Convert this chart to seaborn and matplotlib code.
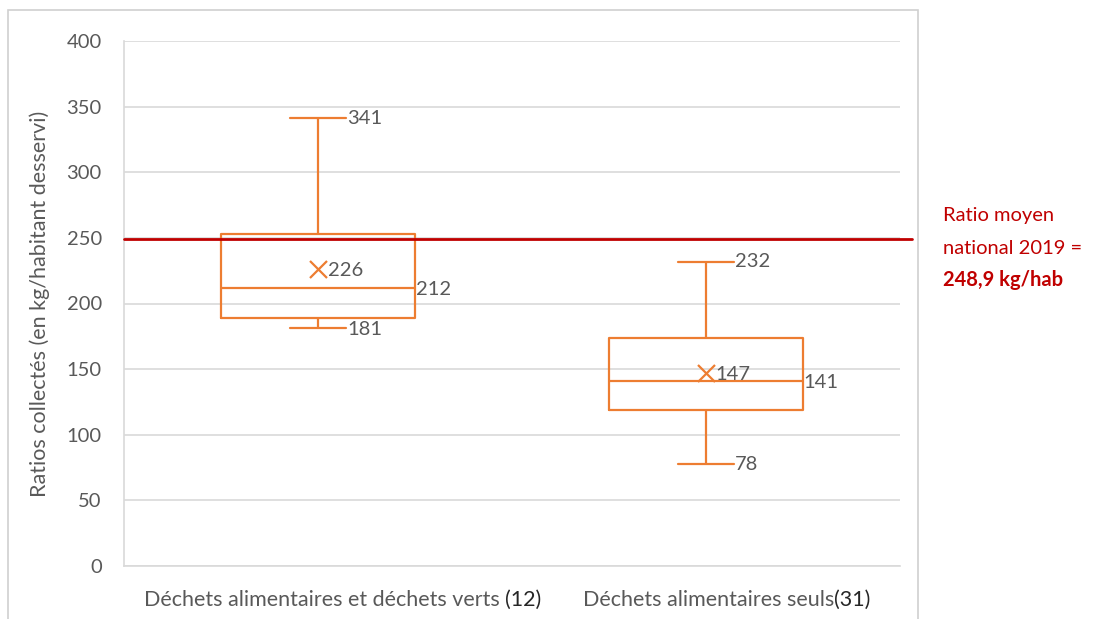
import numpy as np
import pandas as pd
import seaborn as sns
import matplotlib
matplotlib.use('Agg')
import matplotlib.pyplot as plt
import matplotlib.patches as mpatches
import matplotlib.transforms as mtransforms

# -------------------------------Données
categories = ['Déchets alimentaires et déchets verts ', 'Déchets alimentaires seuls']
effectifs = ['(12)', '(31)']
minimums = [181, 78]
q1s = [189, 119]
medianes = [212, 141]
q3s = [253, 174]
maximums = [341, 232]
moyennes = [226, 147]
ratio_national = 248.9
yticks = [0, 50, 100, 150, 200, 250, 300, 350, 400]

orange = '#ED7D31'
rouge = '#C00000'
gris_texte = '#595959'
gris_grille = '#D9D9D9'

sns.set_style("white")
plt.rcParams['font.family'] = ['Lato', 'DejaVu Sans']

# Cinq valeurs par catégorie -> quartiles exacts avec l'interpolation linéaire
lignes = []
for cat, mn, a, m, b, mx in zip(categories, minimums, q1s, medianes, q3s, maximums):
    for v in (mn, a, m, b, mx):
        lignes.append({'categorie': cat, 'valeur': v})
df = pd.DataFrame(lignes)

fig = plt.figure(figsize=(11.04, 6.19), dpi=100)
ax = fig.add_axes([124 / 1104, 1 - 566 / 619, 776 / 1104, 525 / 619])

# Cadre de la zone de graphique
fig.patches.append(mpatches.Rectangle((8 / 1104, -0.05), 910 / 1104, 1.05 - 10 / 619,
                                      transform=fig.transFigure, fill=False,
                                      edgecolor='#D0D0D0', linewidth=1.2))

sns.boxplot(data=df, x='categorie', y='valeur', width=0.5, fill=False,
            color=orange, linecolor=orange, linewidth=1.6, whis=np.inf,
            capwidths=0.145, ax=ax)

# Moyennes (croix)
ax.scatter(range(len(categories)), moyennes, marker='x', s=150, color=orange,
           linewidths=1.6, zorder=5)

# Étiquettes de données
for i in range(len(categories)):
    kw = dict(fontsize=14.5, color=gris_texte, va='center', ha='left')
    ax.text(i + 0.075, maximums[i], str(maximums[i]), **kw)
    ax.text(i + 0.075, minimums[i] - 1, str(minimums[i]), **kw)
    ax.text(i + 0.252, medianes[i] - 1, str(medianes[i]), **kw)
    ax.text(i + 0.025, moyennes[i] - 1, str(moyennes[i]), **kw)

# Ligne du ratio moyen national
ax.axhline(ratio_national, xmin=0, xmax=1.0155, color=rouge, linewidth=2,
           clip_on=False, zorder=6)

ax.set_ylim(0, 400)
ax.set_xlim(-0.5, 1.5)
ax.set_yticks(yticks)
ax.yaxis.grid(True, color=gris_grille, linewidth=1.2)
ax.set_axisbelow(True)
for s in ['top', 'right']:
    ax.spines[s].set_visible(False)
ax.spines['left'].set_color(gris_grille)
ax.spines['bottom'].set_color(gris_grille)
ax.spines['left'].set_linewidth(1.2)
ax.spines['bottom'].set_linewidth(1.2)

ax.tick_params(axis='y', labelsize=14.5, colors=gris_texte, length=0, pad=16)
ax.set_xticks(range(len(categories)))
ax.set_xticklabels([])
ax.tick_params(axis='x', length=0)

# Libellés des catégories (effectif en plus foncé)
trans = mtransforms.blended_transform_factory(ax.transData, ax.transAxes)
separations = [0.482, 0.330]
for i, (cat, n) in enumerate(zip(categories, effectifs)):
    ax.text(i + separations[i], -0.065, cat, transform=trans, ha='right',
            va='center', fontsize=15.5, color=gris_texte)
    ax.text(i + separations[i], -0.065, n, transform=trans, ha='left',
            va='center', fontsize=15.5, color='#262626')

ax.set_xlabel('')
ax.set_ylabel('Ratios collectés (en kg/habitant desservi)', fontsize=15.5,
              color=gris_texte, labelpad=12)

# Texte de la ligne rouge
fig.text(943 / 1104, 1 - 215 / 619, 'Ratio moyen', fontsize=14.5, color=rouge, va='center')
fig.text(943 / 1104, 1 - 248 / 619, 'national 2019 =', fontsize=14.5, color=rouge, va='center')
fig.text(943 / 1104, 1 - 280 / 619, '248,9 kg/hab', fontsize=14.5, color=rouge,
         va='center', fontweight='bold')

plt.savefig('out.png', dpi=100)
plt.close()
